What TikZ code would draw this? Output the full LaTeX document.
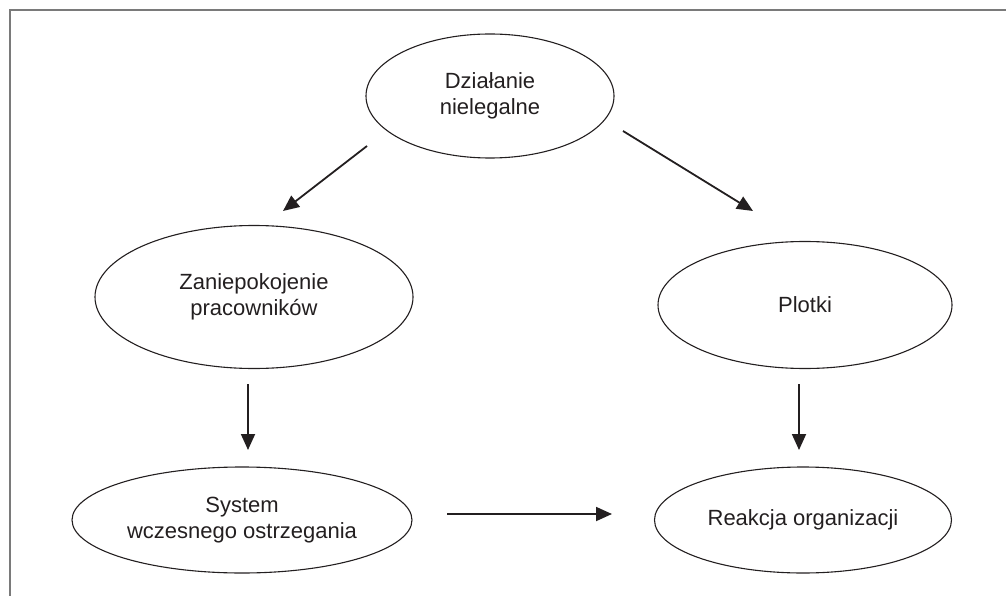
\documentclass[tikz,border=0pt]{standalone}
\usepackage{fontspec}
\setmainfont{Liberation Sans}
\usetikzlibrary{shapes.geometric,arrows.meta}
\definecolor{framegray}{HTML}{7A7A7A}
\definecolor{ink}{HTML}{231F20}
\begin{document}
\begin{tikzpicture}[x=1pt,y=-1pt,
  oval/.style={draw=ink, line width=1.1pt, ellipse, inner sep=0pt, align=center,
    text=ink, font=\fontsize{22}{26}\selectfont},
  conn/.style={draw=ink, line width=1.8pt, -{Triangle[length=16pt,width=14pt]}},
  frameline/.style={draw=framegray, line width=1.6pt}]
\useasboundingbox (0,0) rectangle (1006,596);
\draw[frameline] (10,596) -- (10,10) -- (1006,10);

\node[oval, minimum width=248pt, minimum height=124pt] (top) at (490,96) {Działanie\\nielegalne};
\node[oval, minimum width=318pt, minimum height=143pt] (zan) at (254,297) {Zaniepokojenie\\pracowników};
\node[oval, minimum width=294pt, minimum height=127pt] (plot) at (805,305) {Plotki};
\node[oval, minimum width=340pt, minimum height=106pt] (sys) at (242,520) {System\\wczesnego ostrzegania};
\node[oval, minimum width=297pt, minimum height=106pt] (reak) at (803,520) {Reakcja organizacji};

\coordinate (a1s) at (367,146);
\coordinate (a1e) at (283,211);
\coordinate (a2s) at (623,131);
\coordinate (a2e) at (753,211);
\coordinate (a3s) at (248,384);
\coordinate (a3e) at (248,450);
\coordinate (a4s) at (799,384);
\coordinate (a4e) at (799,450);
\coordinate (a5s) at (447,514);
\coordinate (a5e) at (612,514);

\draw[conn] (a1s) -- (a1e);
\draw[conn] (a2s) -- (a2e);
\draw[conn] (a3s) -- (a3e);
\draw[conn] (a4s) -- (a4e);
\draw[conn] (a5s) -- (a5e);
\end{tikzpicture}
\end{document}
